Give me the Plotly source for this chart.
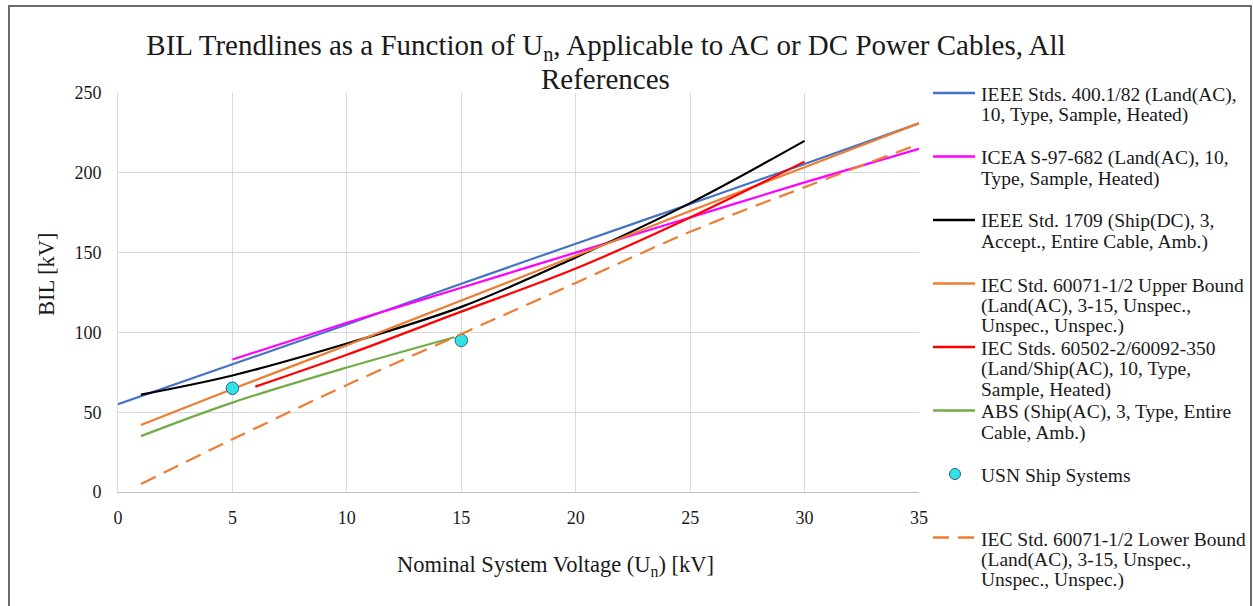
import plotly.graph_objects as go

# ---- data ----
ieee400_x = [0, 5, 10, 15, 20, 25, 30, 35]
ieee400_y = [55, 80, 105, 130.5, 155.5, 180.5, 205.5, 231]

icea_x = [5, 10, 15, 20, 25, 30, 35]
icea_y = [83, 106, 128, 150, 172, 194, 215]

ieee1709_x = [1, 5, 10, 15, 20, 25, 30]
ieee1709_y = [61, 73, 93, 116, 147, 181, 220]

iec_upper_x = [1, 5, 10, 15, 20, 25, 30, 35]
iec_upper_y = [42, 64.5, 92, 120, 148, 176, 203.5, 231]

iec60502_x = [6, 10, 15, 20, 25, 30]
iec60502_y = [66, 86, 113, 140, 172, 207]

abs_x = [1, 5, 10, 14.7]
abs_y = [35, 56, 78, 97]

usn_x = [5, 15]
usn_y = [65, 95]

iec_lower_x = [1, 5, 10, 15, 20, 25, 30, 35]
iec_lower_y = [5, 33, 67, 99, 131, 163, 191, 218]

x_ticks = [0, 5, 10, 15, 20, 25, 30, 35]
y_ticks = [0, 50, 100, 150, 200, 250]

legend_labels = [
    ["IEEE Stds. 400.1/82 (Land(AC),", "10, Type, Sample, Heated)"],
    ["ICEA S-97-682 (Land(AC), 10,", "Type, Sample, Heated)"],
    ["IEEE Std. 1709 (Ship(DC), 3,", "Accept., Entire Cable, Amb.)"],
    ["IEC Std. 60071-1/2 Upper Bound", "(Land(AC), 3-15, Unspec.,", "Unspec., Unspec.)"],
    ["IEC Stds. 60502-2/60092-350", "(Land/Ship(AC), 10, Type,", "Sample, Heated)"],
    ["ABS (Ship(AC), 3, Type, Entire", "Cable, Amb.)"],
    ["USN Ship Systems"],
    ["IEC Std. 60071-1/2 Lower Bound", "(Land(AC), 3-15, Unspec.,", "Unspec., Unspec.)"],
]

FONT = "Liberation Serif, Times New Roman, serif"
TXT = "#1a1a1a"
C_BLUE, C_MAG, C_BLK, C_ORG, C_RED, C_GRN = "#4472C4", "#FF00FF", "#000000", "#ED7D31", "#FF0000", "#70AD47"
C_CYAN, C_EDGE = "#33E3E3", "#2F5F8A"
DASH = "16px,9px"

# plot area in pixels
L, R, T, B = 118, 919, 93, 492
W, H = 1253, 606
def px(x):
    return (x - L) / (R - L)
def py(y):
    return (B - y) / (B - T)

fig = go.Figure()
lw = 2.2
traces = [
    (ieee400_x, ieee400_y, C_BLUE, "solid"),
    (icea_x, icea_y, C_MAG, "solid"),
    (ieee1709_x, ieee1709_y, C_BLK, "solid"),
    (iec_upper_x, iec_upper_y, C_ORG, "solid"),
    (iec60502_x, iec60502_y, C_RED, "solid"),
    (abs_x, abs_y, C_GRN, "solid"),
]
for i, (xs, ys, c, d) in enumerate(traces):
    fig.add_trace(go.Scatter(x=xs, y=ys, mode="lines",
                             name=" ".join(legend_labels[i]),
                             line=dict(color=c, width=lw, dash=d, shape="spline")))
fig.add_trace(go.Scatter(x=usn_x, y=usn_y, mode="markers", name=legend_labels[6][0],
                         marker=dict(color=C_CYAN, size=12.5, line=dict(color=C_EDGE, width=1))))
fig.add_trace(go.Scatter(x=iec_lower_x, y=iec_lower_y, mode="lines",
                         name=" ".join(legend_labels[7]),
                         line=dict(color=C_ORG, width=lw, dash=DASH, shape="spline")))

# ---- legend drawn as text + symbol shapes ----
annotations = []
shapes = []
sym_colors = [C_BLUE, C_MAG, C_BLK, C_ORG, C_RED, C_GRN, None, C_ORG]
for i, lines in enumerate(legend_labels):
    y0 = 93 + i * 63.5
    if i == 6:
        shapes.append(dict(type="circle", xref="paper", yref="paper",
                           x0=px(949.5), x1=px(960.5), y0=py(y0 + 5.5), y1=py(y0 - 5.5),
                           fillcolor=C_CYAN, line=dict(color=C_EDGE, width=1)))
    else:
        shapes.append(dict(type="line", xref="paper", yref="paper",
                           x0=px(933), x1=px(975), y0=py(y0), y1=py(y0),
                           line=dict(color=sym_colors[i], width=2.5,
                                     dash=DASH if i == 7 else "solid")))
    for k, t in enumerate(lines):
        annotations.append(dict(text=t, xref="paper", yref="paper",
                                x=px(979), y=py(y0 + 1.5 + k * 20.7),
                                xanchor="left", yanchor="middle", showarrow=False,
                                font=dict(family=FONT, size=19.5, color=TXT)))

# second title line and axis titles
annotations.append(dict(text="References", xref="paper", yref="paper",
                        x=px(605), y=py(79), xanchor="center", yanchor="middle",
                        showarrow=False, font=dict(family=FONT, size=29, color=TXT)))
annotations.append(dict(text="Nominal System Voltage (U<sub>n</sub>) [kV]", xref="paper", yref="paper",
                        x=px(555), y=py(566), xanchor="center", yanchor="middle",
                        showarrow=False, font=dict(family=FONT, size=22.5, color=TXT)))
annotations.append(dict(text="BIL [kV]", xref="paper", yref="paper", textangle=-90,
                        x=px(46), y=py(274), xanchor="center", yanchor="middle",
                        showarrow=False, font=dict(family=FONT, size=22.5, color=TXT)))

shapes.append(dict(type="rect", xref="paper", yref="paper",
                   x0=px(9), x1=px(1251), y0=py(640), y1=py(6),
                   line=dict(color="#6B6B6B", width=2)))

fig.update_layout(
    width=W, height=H,
    margin=dict(l=L, r=W - R, t=T, b=H - B),
    paper_bgcolor="white", plot_bgcolor="white",
    font=dict(family=FONT, color=TXT, size=18),
    showlegend=False,
    title=dict(
        text="BIL Trendlines as a Function of U<sub>n</sub>, Applicable to AC or DC Power Cables, All",
        x=606 / W, xanchor="center", xref="container",
        y=1 - 45 / H, yanchor="middle", yref="container",
        font=dict(family=FONT, size=29, color=TXT),
    ),
    xaxis=dict(
        range=[0, 35], tickvals=x_ticks,
        showgrid=True, gridcolor="#D9D9D9", gridwidth=1,
        showline=True, linecolor="#BFBFBF", linewidth=1,
        zeroline=False, ticks="", ticklabelstandoff=9,
        tickfont=dict(family=FONT, size=18, color=TXT),
    ),
    yaxis=dict(
        range=[0, 250], tickvals=y_ticks,
        showgrid=True, gridcolor="#D9D9D9", gridwidth=1,
        showline=True, linecolor="#D9D9D9", linewidth=1,
        zeroline=False, ticks="", ticklabelstandoff=12,
        tickfont=dict(family=FONT, size=18, color=TXT),
    ),
    annotations=annotations,
    shapes=shapes,
)

fig.write_html("out.html")
